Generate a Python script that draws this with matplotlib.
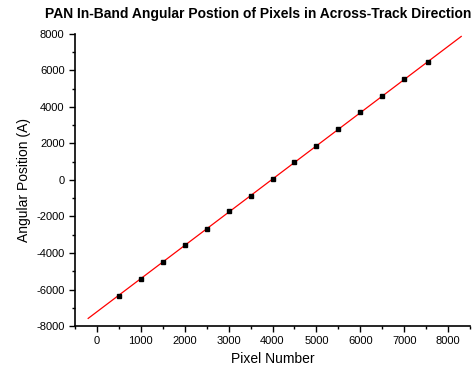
import numpy as np
import matplotlib
matplotlib.use("Agg")
import matplotlib.pyplot as plt
from matplotlib.ticker import MultipleLocator

plt.rcParams["font.family"] = ["Liberation Sans", "DejaVu Sans"]
plt.rcParams["axes.unicode_minus"] = False

# data
pixel = [500, 1000, 1500, 2000, 2500, 3000, 3500, 4000,
         4500, 5000, 5500, 6000, 6500, 7000, 7550]
angle = [-6350, -5420, -4490, -3560, -2680, -1720, -870, 40,
         980, 1860, 2790, 3710, 4600, 5520, 6440]
fit_range = [-200, 8300]

fig = plt.figure(figsize=(4.75, 3.74), dpi=100)
ax = fig.add_axes([75/475, 48/374, 395/475, 292/374])

# linear fit through the points
k, b = np.polyfit(pixel, angle, 1)
xf = np.array(fit_range)
ax.plot(xf, k*xf + b, color="red", lw=0.9, zorder=2)
ax.plot(pixel, angle, "s", color="black", ms=3.4, zorder=3)

ax.set_xlim(-500, 8500)
ax.set_ylim(-8000, 8000)
ax.xaxis.set_major_locator(MultipleLocator(1000))
ax.xaxis.set_minor_locator(MultipleLocator(500))
ax.yaxis.set_major_locator(MultipleLocator(2000))
ax.yaxis.set_minor_locator(MultipleLocator(1000))

for s in ["top", "right"]:
    ax.spines[s].set_visible(False)
for s in ["left", "bottom"]:
    ax.spines[s].set_linewidth(1.2)
ax.tick_params(which="major", direction="out", length=4, width=1, labelsize=8)
ax.tick_params(which="minor", direction="out", length=2.5, width=1)

ax.set_xlabel("Pixel Number", fontsize=10)
ax.set_ylabel("Angular Position (A)", fontsize=10)
fig.text(258/475, 1 - 14/374, "PAN In-Band Angular Postion of Pixels in Across-Track Direction",
         ha="center", va="center", fontsize=10, fontweight="bold")

fig.savefig("out.png", dpi=100)
